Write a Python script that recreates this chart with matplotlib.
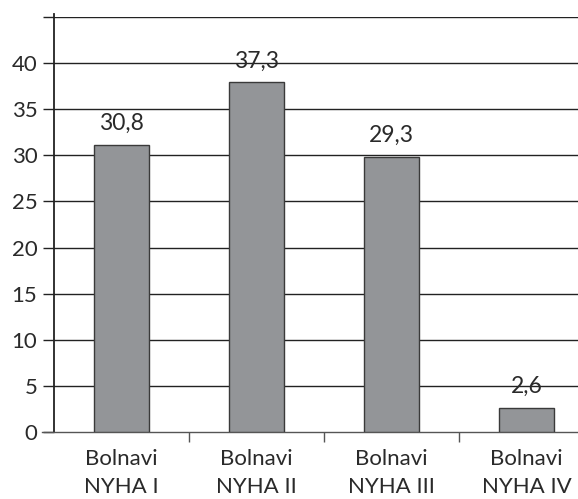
import matplotlib
matplotlib.use("Agg")
import matplotlib.pyplot as plt

categories = ["Bolnavi\nNYHA I", "Bolnavi\nNYHA II", "Bolnavi\nNYHA III", "Bolnavi\nNYHA IV"]
heights = [31.1, 37.9, 29.8, 2.6]
value_labels = ["30,8", "37,3", "29,3", "2,6"]
yticks = [0, 5, 10, 15, 20, 25, 30, 35, 40]

plt.rcParams["font.family"] = ["Lato", "DejaVu Sans"]

fig = plt.figure(figsize=(5.78, 4.99), dpi=100)
ax = fig.add_axes([54 / 578, 67 / 499, 540 / 578, 415 / 499])

ax.set_xlim(-0.5, 3.5)
ax.set_ylim(0, 45)

for y in [5, 10, 15, 20, 25, 30, 35, 40, 45]:
    ax.axhline(y, color="#222222", linewidth=1.0, zorder=1)

x = range(len(categories))
ax.bar(x, heights, width=0.41, color="#939598", edgecolor="#3a3a3a",
       linewidth=1.0, zorder=3)

for i, (h, lab) in enumerate(zip(heights, value_labels)):
    ax.annotate(lab, (i, h), xytext=(0, 8), textcoords="offset points",
                ha="center", va="bottom", fontsize=16.5, color="#2a2a2a")

for s in ["top", "right"]:
    ax.spines[s].set_visible(False)
ax.spines["left"].set_color("#222222")
ax.spines["left"].set_linewidth(1.3)
ax.spines["left"].set_bounds(0, 45.3)
ax.spines["bottom"].set_color("#555555")
ax.spines["bottom"].set_linewidth(1.0)

ax.set_yticks([0, 5, 10, 15, 20, 25, 30, 35, 40, 45])
ax.set_yticklabels([str(v) for v in yticks] + [""])
ax.tick_params(axis="y", length=8, width=1.0, color="#222222",
               labelsize=16, labelcolor="#2a2a2a", pad=4)

ax.set_xticks(list(x))
ax.set_xticklabels(categories, fontsize=16, color="#2a2a2a", linespacing=1.55)
ax.tick_params(axis="x", which="major", length=0, pad=12)
ax.set_xticks([0.5, 1.5, 2.5], minor=True)
ax.tick_params(axis="x", which="minor", length=7, width=1.0, color="#555555")

ax.spines["bottom"].set_bounds(-0.59, 3.5)

fig.savefig("out.png", dpi=100)
